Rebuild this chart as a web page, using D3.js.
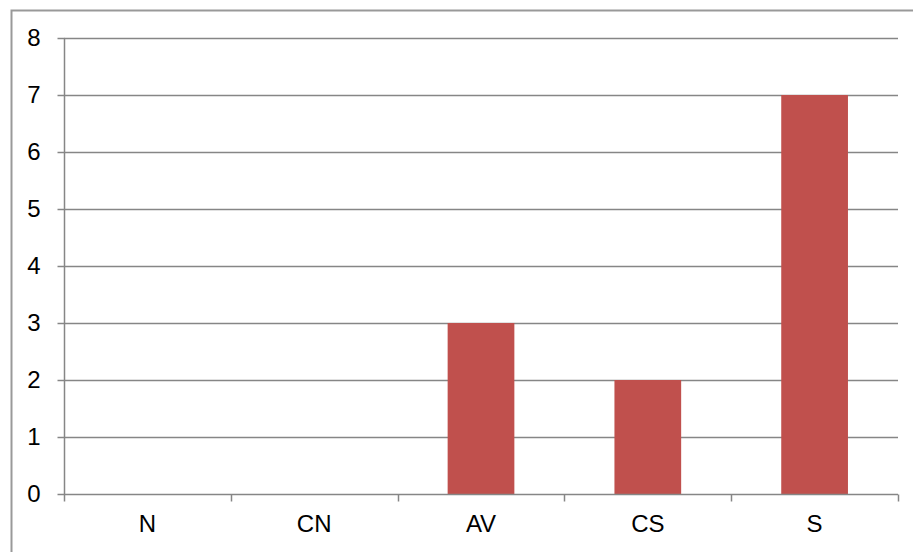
<!DOCTYPE html>
<html><head><meta charset="utf-8">
<script src="https://cdn.jsdelivr.net/npm/d3@7"></script>
<style>html,body{margin:0;padding:0;background:#fff;overflow:hidden}</style>
</head><body>
<script>
const categories = ["N", "CN", "AV", "CS", "S"];
const values = [0, 0, 3, 2, 7];
const yTicks = [0, 1, 2, 3, 4, 5, 6, 7, 8];

const W = 913, H = 552;
const m = {left: 64, right: 15, top: 38, bottom: 58};
const svg = d3.select("body").append("svg").attr("width", W).attr("height", H);

svg.append("rect").attr("x", 11.5).attr("y", 10.5).attr("width", 1000).attr("height", 1000)
  .attr("fill", "none").attr("stroke", "#999").attr("stroke-width", 2);

const x = d3.scaleBand().domain(categories).range([m.left, W - m.right]).padding(0);
const y = d3.scaleLinear().domain([0, 8]).range([H - m.bottom, m.top]);

const font = "'Liberation Sans Narrow', 'Liberation Sans', Arial, sans-serif";
const fs = 24;
const gridColor = "#868686";

// gridlines
svg.append("g").selectAll("line").data(yTicks.filter(d => d > 0)).join("line")
  .attr("x1", m.left).attr("x2", W - m.right)
  .attr("y1", d => Math.round(y(d)) + 0.5).attr("y2", d => Math.round(y(d)) + 0.5)
  .attr("stroke", gridColor).attr("stroke-width", 1.5);

// bars
const bw = x.bandwidth() * 0.4;
svg.append("g").selectAll("rect").data(categories.map((c, i) => ({c, v: values[i]})).filter(d => d.v > 0)).join("rect")
  .attr("x", d => x(d.c) + (x.bandwidth() - bw) / 2)
  .attr("width", bw)
  .attr("y", d => y(d.v))
  .attr("height", d => y(0) - y(d.v))
  .attr("fill", "#C0504D");

// y axis
const yAxis = d3.axisLeft(y).tickValues(yTicks).tickSize(7).tickPadding(17).tickFormat(d3.format("d"));
const gy = svg.append("g").attr("transform", `translate(${m.left + 0.5},0)`).call(yAxis);
gy.select(".domain").attr("stroke", gridColor).attr("stroke-width", 1.5).attr("d", `M0,${y(8)}V${y(0)}`);
gy.selectAll(".tick line").attr("stroke", gridColor).attr("stroke-width", 1.5);
gy.selectAll(".tick text").attr("font-family", font).attr("font-size", fs).attr("fill", "#000");

// x axis
const xAxis = d3.axisBottom(x).tickSize(0).tickPadding(20);
const gx = svg.append("g").attr("transform", `translate(0,${Math.round(y(0)) + 0.5})`).call(xAxis);
gx.select(".domain").attr("stroke", gridColor).attr("stroke-width", 1.5).attr("d", `M${m.left},0H${W - m.right}`);
gx.selectAll(".tick text").attr("font-family", font).attr("font-size", fs).attr("fill", "#000");
// category boundary ticks
const bounds = categories.map(c => x(c)).concat([x(categories[categories.length - 1]) + x.bandwidth()]);
gx.append("g").selectAll("line").data(bounds).join("line")
  .attr("x1", d => Math.round(d) + 0.5).attr("x2", d => Math.round(d) + 0.5)
  .attr("y1", 0).attr("y2", 7)
  .attr("stroke", gridColor).attr("stroke-width", 1.5);
</script>
</body></html>
